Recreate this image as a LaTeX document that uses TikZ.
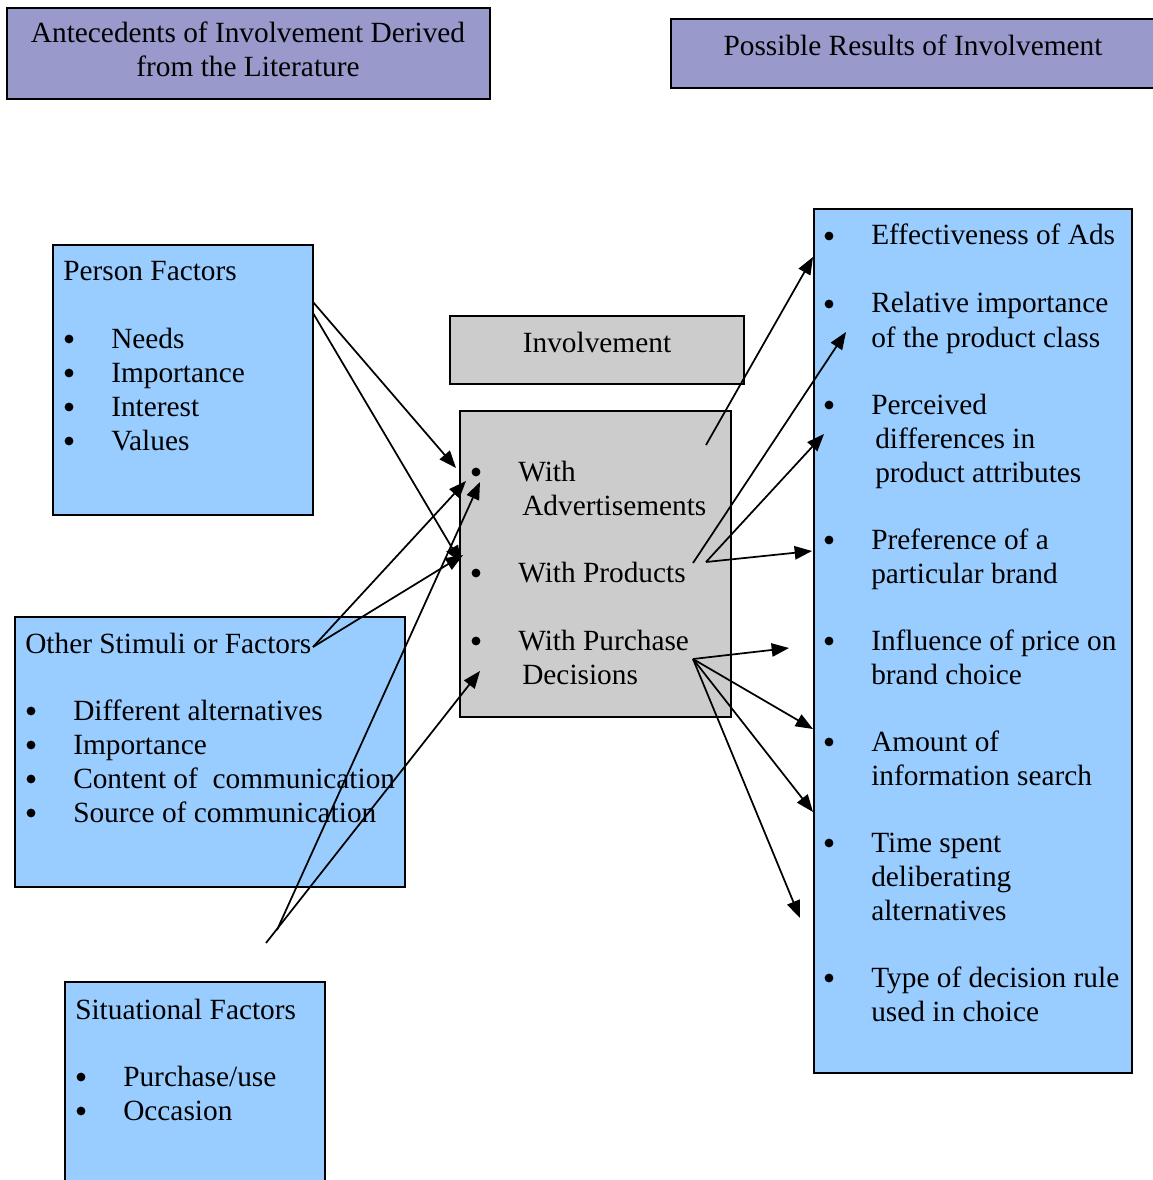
\documentclass[tikz,border=0pt]{standalone}
\usepackage{fontspec}
\setmainfont{Liberation Serif}
\usetikzlibrary{arrows.meta}
\definecolor{hdrfill}{HTML}{9999CC}
\definecolor{boxblue}{HTML}{99CCFF}
\definecolor{boxgray}{HTML}{CCCCCC}
% one bulleted line: name, bullet x, text x, baseline y, text
\newcommand\bulletline[5]{%
  \node[blt] (#1-b) at (#2,#4-9) {};
  \node[txt] (#1) at (#3,#4) {#5};}
\begin{document}
\begin{tikzpicture}[x=0.75pt,y=-0.75pt,
  font=\fontsize{22}{25.5}\selectfont,
  panel/.style={draw=black,line width=2.2pt,inner sep=0pt,outer sep=0pt,anchor=north west},
  hdr/.style={panel,fill=hdrfill},
  bluebox/.style={panel,fill=boxblue},
  graybox/.style={panel,fill=boxgray},
  txt/.style={anchor=base west,inner sep=0pt},
  ctxt/.style={anchor=base,inner sep=0pt},
  blt/.style={circle,fill=black,inner sep=0pt,minimum size=6.6pt},
  link/.style={line width=1.3pt,-{Triangle[length=13pt,width=10pt]}}]
\useasboundingbox (0,0) rectangle (1152,1180);

% headings
\node[hdr,minimum width=483*0.75pt,minimum height=91*0.75pt] (hleft) at (7,8) {};
\node[ctxt] (hleft1) at (248,43) {Antecedents of Involvement Derived};
\node[ctxt] (hleft2) at (248,77) {from the Literature};
\node[hdr,minimum width=495*0.75pt,minimum height=69*0.75pt] (hright) at (671,19) {};
\node[ctxt] (hright1) at (913,56) {Possible Results of Involvement};

% person factors
\node[bluebox,minimum width=260*0.75pt,minimum height=270*0.75pt] (person) at (53,245) {};
\node[txt] (pf0) at (63,281) {Person Factors};
\bulletline{pf1}{69}{111}{348}{Needs}
\bulletline{pf2}{69}{111}{382}{Importance}
\bulletline{pf3}{69}{111}{416}{Interest}
\bulletline{pf4}{69}{111}{450}{Values}

% other stimuli
\node[bluebox,minimum width=390*0.75pt,minimum height=270*0.75pt] (other) at (15,617) {};
\node[txt] (os0) at (25,653) {Other Stimuli or Factors};
\bulletline{os1}{31}{73}{720}{Different alternatives}
\bulletline{os2}{31}{73}{754}{Importance}
\bulletline{os3}{31}{73}{788}{Content of \ communication}
\bulletline{os4}{31}{73}{822}{Source of communication}

% situational factors
\node[bluebox,minimum width=260*0.75pt,minimum height=240*0.75pt] (situ) at (65,982) {};
\node[txt] (sf0) at (75,1019) {Situational Factors};
\bulletline{sf1}{81}{123}{1086}{Purchase/use}
\bulletline{sf2}{81}{123}{1120}{Occasion}

% involvement
\node[graybox,minimum width=294*0.75pt,minimum height=68*0.75pt] (invtitle) at (450,316) {};
\node[ctxt] (inv0) at (597,352) {Involvement};
\node[graybox,minimum width=271*0.75pt,minimum height=306*0.75pt] (inv) at (460,411) {};
\bulletline{iv1}{476}{518}{481}{With}
\node[txt] (iv1b) at (522,515) {Advertisements};
\bulletline{iv2}{476}{518}{582}{With Products}
\bulletline{iv3}{476}{518}{650}{With Purchase}
\node[txt] (iv3b) at (522,684) {Decisions};

% results
\node[bluebox,minimum width=318*0.75pt,minimum height=864*0.75pt] (results) at (814,209) {};
\bulletline{r1}{829}{871}{245}{Effectiveness of Ads}
\bulletline{r2}{829}{871}{313}{Relative importance}
\node[txt] (r2b) at (871,347) {of the product class};
\bulletline{r3}{829}{871}{414}{Perceived}
\node[txt] (r3b) at (875,448) {differences in};
\node[txt] (r3c) at (875,482) {product attributes};
\bulletline{r4}{829}{871}{549}{Preference of a}
\node[txt] (r4b) at (871,583) {particular brand};
\bulletline{r5}{829}{871}{650}{Influence of price on}
\node[txt] (r5b) at (871,684) {brand choice};
\bulletline{r6}{829}{871}{751}{Amount of}
\node[txt] (r6b) at (871,785) {information search};
\bulletline{r7}{829}{871}{852}{Time spent}
\node[txt] (r7b) at (871,886) {deliberating};
\node[txt] (r7c) at (871,920) {alternatives};
\bulletline{r8}{829}{871}{987}{Type of decision rule}
\node[txt] (r8b) at (871,1021) {used in choice};

% connector end points
\coordinate (pfA) at (313,302);
\coordinate (pfB) at (313,313);
\coordinate (osA) at (313,647);
\coordinate (sfA) at (277,930);
\coordinate (sfB) at (266,943);
\coordinate (advIn1) at (456,468);
\coordinate (advIn2) at (466,481);
\coordinate (advIn3) at (480,482);
\coordinate (prodIn1) at (461,563);
\coordinate (prodIn2) at (463,555);
\coordinate (decIn) at (480,671);
\coordinate (advOut) at (706,445);
\coordinate (prodOut1) at (693,563);
\coordinate (prodOut2) at (706,562);
\coordinate (decOut) at (693,659);
\coordinate (res1) at (813,257);
\coordinate (res2) at (846,332);
\coordinate (res3) at (824,434);
\coordinate (res4) at (812,551);
\coordinate (res5) at (789,648);
\coordinate (res6) at (813,729);
\coordinate (res7) at (813,812);
\coordinate (res8) at (800,918);

% antecedents to involvement
\draw[link] (pfA) -- (advIn1);
\draw[link] (pfB) -- (prodIn1);
\draw[link] (osA) -- (advIn2);
\draw[link] (osA) -- (prodIn2);
\draw[link] (sfA) -- (advIn3);
\draw[link] (sfB) -- (decIn);

% involvement to results
\draw[link] (advOut) -- (res1);
\draw[link] (prodOut1) -- (res2);
\draw[link] (prodOut2) -- (res3);
\draw[link] (prodOut2) -- (res4);
\draw[link] (decOut) -- (res5);
\draw[link] (decOut) -- (res6);
\draw[link] (decOut) -- (res7);
\draw[link] (decOut) -- (res8);
\end{tikzpicture}
\end{document}
